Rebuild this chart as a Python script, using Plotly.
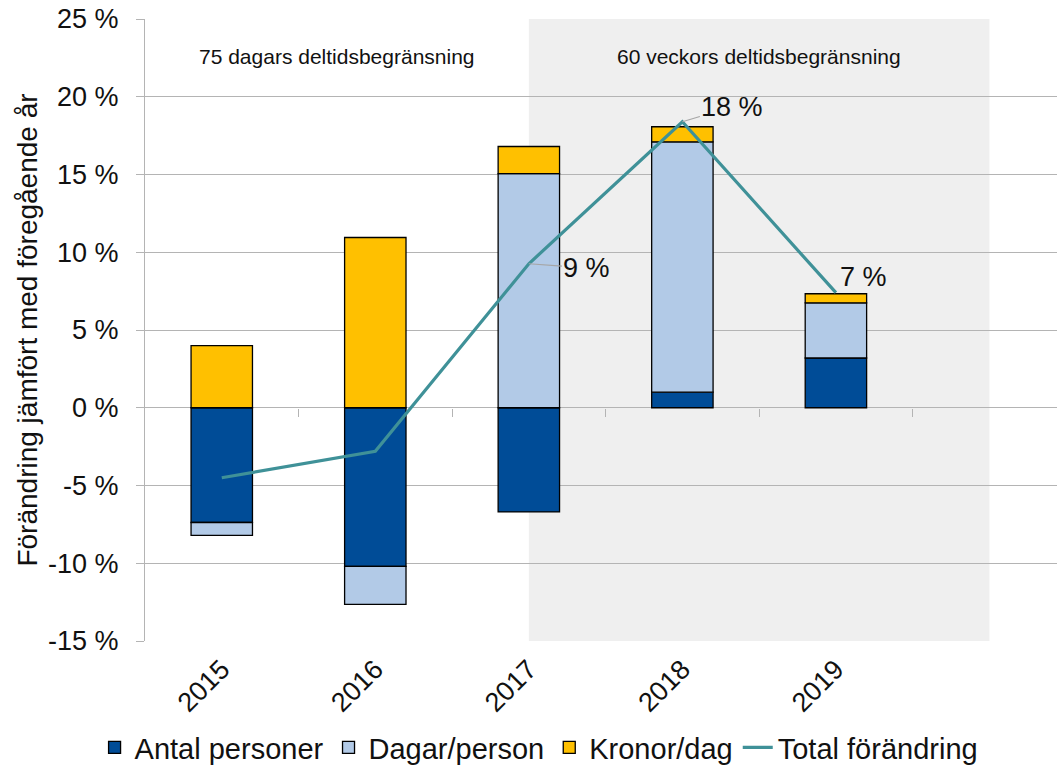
import plotly.graph_objects as go

years = ["2015", "2016", "2017", "2018", "2019"]
antal_personer = [-7.38, -10.2, -6.7, 1.0, 3.2]
dagar_person = [-0.83, -2.45, 15.05, 16.1, 3.55]
kronor_dag = [4.0, 10.95, 1.75, 0.97, 0.58]
total = [-4.5, -2.8, 9.26, 18.39, 7.4]
labelled = [False, False, True, True, True]

y_tickvals = [-15, -10, -5, 0, 5, 10, 15, 20, 25]
y_ticktext = ["-15 %", "-10 %", "-5 %", "0 %", "5 %", "10 %", "15 %", "20 %", "25 %"]

region_labels = ["75 dagars deltidsbegränsning", "60 veckors deltidsbegränsning"]

FONT = "Liberation Sans, Arial, sans-serif"
C_DARK = "#004C97"
C_LIGHT = "#B2CAE7"
C_YEL = "#FFC000"
C_LINE = "#3F9198"
GRID = "#B4B4B4"

xs = list(range(len(years)))

fig = go.Figure()
for name, vals, col in [("Antal personer", antal_personer, C_DARK),
                        ("Dagar/person", dagar_person, C_LIGHT),
                        ("Kronor/dag", kronor_dag, C_YEL)]:
    fig.add_trace(go.Bar(x=xs, y=vals, name=name, width=0.4,
                         marker=dict(color=col, line=dict(color="black", width=1.3))))

fig.add_trace(go.Scatter(x=xs, y=total, name="Total förändring", mode="lines",
                         line=dict(color=C_LINE, width=3.2)))

# dummy axis to draw tick marks at zero line
fig.add_trace(go.Scatter(x=[xs[0]], y=[0], xaxis="x2", mode="markers",
                         marker=dict(opacity=0), showlegend=False, hoverinfo="skip"))

# shaded period
fig.add_shape(type="rect", xref="x", yref="paper", x0=2, x1=5, y0=0, y1=1,
              fillcolor="#EFEFEF", line=dict(width=0), layer="below")

# region labels
fig.add_annotation(x=0.75, y=22.6, text=region_labels[0], showarrow=False,
                   font=dict(size=21, color="#111", family=FONT))
fig.add_annotation(x=3.5, y=22.6, text=region_labels[1], showarrow=False,
                   font=dict(size=21, color="#111", family=FONT))

# data labels
offsets = {2: (58, 4, True), 3: (50, -15, True), 4: (28, -16, False)}
for i, (x, v) in enumerate(zip(xs, total)):
    if not labelled[i]:
        continue
    dx, dy, arrow = offsets[i]
    txt = f"{round(v):d} %"
    if arrow:
        fig.add_annotation(x=x, y=v, text=txt, showarrow=True, arrowhead=0,
                           arrowcolor="#A6A6A6", arrowwidth=1.2, ax=dx, ay=dy,
                           standoff=0, startstandoff=0,
                           font=dict(size=27, color="#111", family=FONT))
    else:
        fig.add_annotation(x=x, y=v, text=txt, showarrow=False, xshift=dx, yshift=-dy,
                           font=dict(size=27, color="#111", family=FONT))

fig.update_layout(
    width=1057, height=773,
    margin=dict(l=145, r=0, t=19, b=132),
    paper_bgcolor="white", plot_bgcolor="rgba(0,0,0,0)",
    barmode="relative",
    font=dict(family=FONT, size=27, color="#111"),
    xaxis=dict(tickmode="array", tickvals=xs, ticktext=years, range=[-0.5, 5.44],
               tickangle=-45, showgrid=False, zeroline=False, showline=False,
               ticks="", ticklabelstandoff=6, tickfont=dict(size=27), automargin=False),
    xaxis2=dict(overlaying="x", anchor="free", position=0.375, range=[-0.5, 5.44],
                tickmode="array", tickvals=[0.5, 1.5, 2.5, 3.5, 4.5], ticks="outside",
                ticklen=8, tickcolor=GRID, tickwidth=1.3, showticklabels=False,
                showgrid=False, zeroline=False, showline=False, side="bottom",
                automargin=False),
    yaxis=dict(range=[-15, 25], tickmode="array", tickvals=y_tickvals, ticktext=y_ticktext,
               showgrid=True, gridcolor=GRID, gridwidth=1.3, zeroline=False,
               showline=True, linecolor=GRID, linewidth=1.3,
               ticks="outside", ticklen=8, tickcolor=GRID, tickwidth=1.3,
               ticklabelstandoff=12, tickfont=dict(size=27), automargin=False,
               ticklabeloverflow="allow",
               title=dict(text="Förändring jämfört med föregående år", font=dict(size=28),
                          standoff=2)),
    legend=dict(orientation="h", xref="container", yref="container", x=0.51, y=0.0,
                xanchor="center", yanchor="bottom", font=dict(size=29),
                traceorder="normal", itemwidth=30, bgcolor="rgba(0,0,0,0)"),
    showlegend=True,
)

fig.write_html("out.html", config={"displayModeBar": False},
               post_script="document.body.style.margin='0';")
